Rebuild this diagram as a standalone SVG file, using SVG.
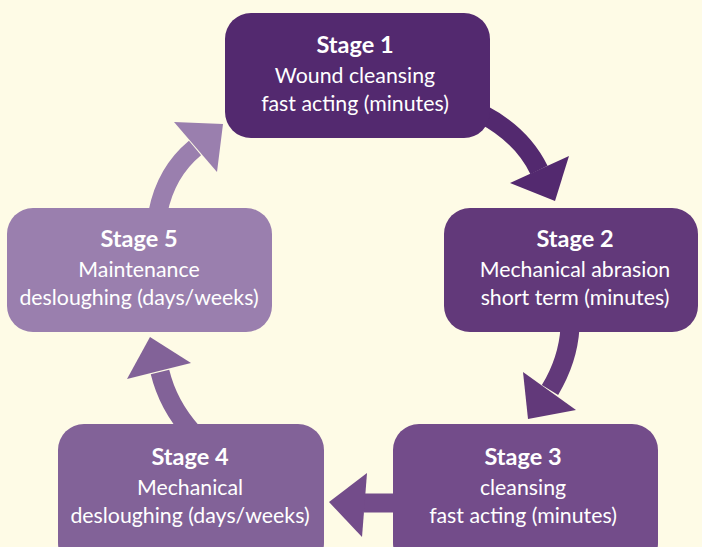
<svg xmlns="http://www.w3.org/2000/svg" width="702" height="547" viewBox="0 0 702 547">
<style>
.t{font-family:Lato,"Open Sans","Liberation Sans",sans-serif;font-size:21.3px;fill:#ffffff;text-anchor:middle}
.b{font-weight:bold;font-size:23.5px}
.s{fill:none;stroke-width:19}
</style>
<rect x="0" y="0" width="702" height="547" fill="#fefbe6"/>
<g id="connectors">
<path class="s" d="M482,114 Q522,135 539,170" stroke="#53296f"/>
<polygon points="510,183 569,156 555,201" fill="#53296f"/>
<path class="s" d="M570,328 Q568,360 550,390" stroke="#62397a"/>
<polygon points="523,372 576,410 528,419" fill="#62397a"/>
<path class="s" d="M400,503 L364,503" stroke="#734c8a" stroke-width="20"/>
<polygon points="367,473 329,502 362,537" fill="#734c8a"/>
<path class="s" d="M192,432 Q168,405 160,372" stroke="#826298"/>
<polygon points="127,379 150,337 191,363" fill="#826298"/>
<path class="s" d="M158,212 Q166,172 195,148" stroke="#9a7fae"/>
<polygon points="174,122 223,124 217,172" fill="#9a7fae"/>
</g>
<g id="stage1">
<rect x="225" y="13" width="265" height="125" rx="26" fill="#53296f"/>
<text class="t b" x="355" y="53">Stage 1</text>
<text class="t" x="355" y="83">Wound cleansing</text>
<text class="t" x="355" y="111">fast acting (minutes)</text>
</g>
<g id="stage2">
<rect x="444" y="208" width="254" height="124" rx="26" fill="#62397a"/>
<text class="t b" x="575" y="247">Stage 2</text>
<text class="t" x="575" y="277">Mechanical abrasion</text>
<text class="t" x="575" y="305">short term (minutes)</text>
</g>
<g id="stage3">
<rect x="393" y="424" width="265" height="145" rx="26" fill="#734c8a"/>
<text class="t b" x="523" y="465">Stage 3</text>
<text class="t" x="523" y="495">cleansing</text>
<text class="t" x="523" y="523">fast acting (minutes)</text>
</g>
<g id="stage4">
<rect x="58" y="424" width="266" height="145" rx="26" fill="#826298"/>
<text class="t b" x="190" y="465">Stage 4</text>
<text class="t" x="190" y="495">Mechanical</text>
<text class="t" x="190" y="523">desloughing (days/weeks)</text>
</g>
<g id="stage5">
<rect x="7" y="208" width="265" height="124" rx="26" fill="#9a7fae"/>
<text class="t b" x="139" y="247">Stage 5</text>
<text class="t" x="139" y="277">Maintenance</text>
<text class="t" x="139" y="305">desloughing (days/weeks)</text>
</g>
</svg>
